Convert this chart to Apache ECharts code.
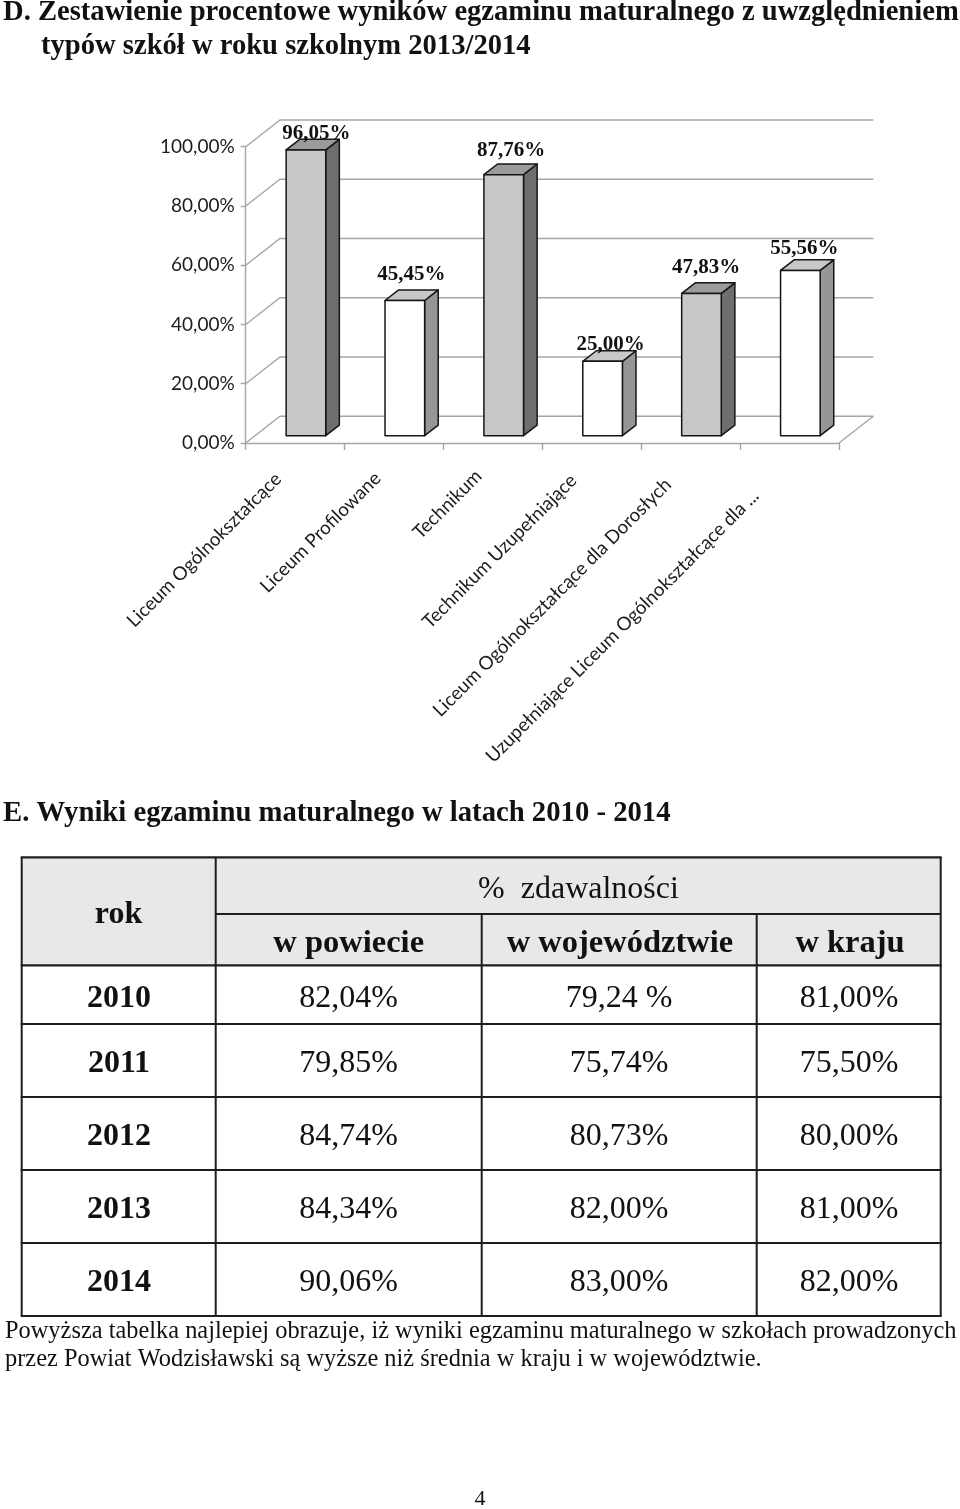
<!DOCTYPE html>
<html><head><meta charset="utf-8">
<style>html,body{margin:0;padding:0;background:#fff}#c{width:960px;height:1509px}</style>
<script src="https://cdn.jsdelivr.net/npm/echarts@6/dist/echarts.min.js"></script>
</head><body><div id="c"></div>
<script>
const categories = ['Liceum Ogólnokształcące','Liceum Profilowane','Technikum','Technikum Uzupełniające','Liceum Ogólnokształcące dla Dorosłych','Uzupełniające Liceum Ogólnokształcące dla ...'];
const passRates = [96.05,45.45,87.76,25.00,47.83,55.56];
const passLabels = ['96,05%','45,45%','87,76%','25,00%','47,83%','55,56%'];
const tableHeaderTop = '%  zdawalności';
const tableHeaderYear = 'rok';
const tableColumns = ['w powiecie','w województwie','w kraju'];
const tableYears = ['2010','2011','2012','2013','2014'];
const colPowiat = ['82,04%','79,85%','84,74%','84,34%','90,06%'];
const colWoj = ['79,24 %','75,74%','80,73%','82,00%','83,00%'];
const colKraj = ['81,00%','75,50%','80,00%','81,00%','82,00%'];
const titleD = ['D. Zestawienie procentowe wyników egzaminu maturalnego z uwzględnieniem','typów szkół w roku szkolnym 2013/2014'];
const titleE = 'E. Wyniki egzaminu maturalnego w latach 2010 - 2014';
const footer = ['Powyższa tabelka najlepiej obrazuje, iż wyniki egzaminu maturalnego w szkołach prowadzonych','przez Powiat Wodzisławski są wyższe niż średnia w kraju i w województwie.'];
const pageNumber = '4';

// style / layout constants
const SERIF = '"Liberation Serif","Times New Roman",serif';
const WALL = [34.3,-26.7], GRID = '#a6a6a6', INK = '#161616';
const labelLift = [16.5,25.5,24.5,17,26,22];
const labelShift = [10.5,6.5,7.5,8,4.7,4];
const catPad = [24,23,20,26,32,48];
const FILLS = [{f:'#c8c8c8',s:'#6e6e6e',t:'#9b9b9b'},{f:'#ffffff',s:'#969696',t:'#c8c8c8'}];
const tickVals = [0,20,40,60,80,100];

function wallItem(p, api){
  const i = api.value(0), y0 = api.coord([0,tickVals[i]]);
  const r = p.coordSys, L = r.x, R = r.x+r.width, Y = y0[1];
  const children = [{type:'polyline',shape:{points:[[L,Y],[L+WALL[0],Y+WALL[1]],[R+WALL[0],Y+WALL[1]]]},style:{stroke:GRID,lineWidth:1.4,fill:null}}];
  if(i===0) children.push({type:'polyline',shape:{points:[[R,Y],[R+WALL[0],Y+WALL[1]]]},style:{stroke:GRID,lineWidth:1.4,fill:null}});
  return {type:'group',children};
}
function barItem(p, api){
  const i = api.value(0), v = api.value(1);
  const w = 39.6, dx = 13.6, dy = -10.6;
  const c = api.coord([i,v]), b = api.coord([i,0]);
  const x0 = c[0]-9, x1 = x0+w, yb = b[1]-7.3, yt = yb-(b[1]-c[1])*1.004;
  const col = FILLS[i%2];
  const st = f=>({fill:f,stroke:INK,lineWidth:1.5,lineJoin:'round'});
  return {type:'group',children:[
    {type:'polygon',shape:{points:[[x1,yb],[x1+dx,yb+dy],[x1+dx,yt+dy],[x1,yt]]},style:st(col.s)},
    {type:'polygon',shape:{points:[[x0,yt],[x1,yt],[x1+dx,yt+dy],[x0+dx,yt+dy]]},style:st(col.t)},
    {type:'rect',shape:{x:x0,y:yt,width:w,height:yb-yt},style:st(col.f)},
    {type:'text',x:x0+w/2+labelShift[i],y:yt-labelLift[i],style:{text:passLabels[i],font:'bold 21px '+SERIF,fill:'#111',align:'center',verticalAlign:'middle'}}
  ]};
}

// table
const T = {x:[21.7,215.7,481.7,756.7,940.7], y:[857.3,914,965.3,1024,1097,1170,1243,1316]};
const g = [];
const txt=(s,x,y,font,align)=>g.push({type:'text',z:5,x,y,style:{text:s,font,fill:'#111',align:align||'center',verticalAlign:'middle'}});
const hline=(a,b,y)=>g.push({type:'line',z:4,shape:{x1:a,y1:y,x2:b,y2:y},style:{stroke:'#1e1e1e',lineWidth:2.2}});
const vline=(x,a,b)=>g.push({type:'line',z:4,shape:{x1:x,y1:a,x2:x,y2:b},style:{stroke:'#1e1e1e',lineWidth:2}});
g.push({type:'rect',z:1,shape:{x:T.x[0],y:T.y[0],width:T.x[4]-T.x[0],height:T.y[2]-T.y[0]},style:{fill:'#e8e8e8'}});
hline(T.x[0]-1,T.x[4]+1,T.y[0]); hline(T.x[1],T.x[4],T.y[1]);
for(let k=2;k<T.y.length;k++) hline(T.x[0]-1,T.x[4]+1,T.y[k]);
vline(T.x[0],T.y[0],T.y[7]); vline(T.x[1],T.y[0],T.y[7]); vline(T.x[4],T.y[0],T.y[7]);
vline(T.x[2],T.y[1],T.y[7]); vline(T.x[3],T.y[1],T.y[7]);
const cellB='bold 32px '+SERIF, cellR='32px '+SERIF;
txt(tableHeaderYear,118.5,914.5,cellB);
txt(tableHeaderTop,578.5,889.5,cellR);
const colC=[348.7,620,850];
tableColumns.forEach((s,i)=>txt(s,colC[i],943.5,'bold 32.5px '+SERIF));
const rowC=[998.5,1063.5,1136.5,1209.5,1282.5];
tableYears.forEach((yr,i)=>{
  txt(yr,119,rowC[i],cellB);
  txt(colPowiat[i],348.7,rowC[i],cellR);
  txt(colWoj[i],619,rowC[i],cellR);
  txt(colKraj[i],849,rowC[i],cellR);
});
txt(titleD[0],3,13,'bold 28.6px '+SERIF,'left');
txt(titleD[1],41,47,'bold 28.6px '+SERIF,'left');
txt(titleE,3,814,'bold 28.7px '+SERIF,'left');
txt(footer[0],5,1332,'24.4px '+SERIF,'left');
txt(footer[1],5,1360,'24.4px '+SERIF,'left');
txt(pageNumber,480,1499,'22px '+SERIF);

const chart = echarts.init(document.getElementById('c'),null,{renderer:'canvas'});
chart.setOption({
  animation:false,
  backgroundColor:'#fff',
  grid:{left:245.7,top:146.7,width:593.3,height:296.3,containLabel:false},
  xAxis:{type:'category',
    data:categories.map((c,i)=>({value:c,textStyle:{padding:[0,catPad[i],0,0]}})),
    axisTick:{show:true,alignWithLabel:false,length:7,lineStyle:{color:GRID,width:1.4}},
    axisLine:{show:true,lineStyle:{color:GRID,width:1.4}},
    axisLabel:{interval:0,rotate:45,margin:16,fontFamily:'Lato',fontSize:18.8,color:'#1c1c1c'}},
  yAxis:{type:'value',min:0,max:100,interval:20,
    axisLine:{show:true,lineStyle:{color:GRID,width:1.4}},
    axisTick:{show:true,length:5,lineStyle:{color:GRID,width:1.4}},
    splitLine:{show:false},
    axisLabel:{fontFamily:'Lato',fontSize:19,color:'#1c1c1c',margin:11,padding:[2,0,0,0],formatter:v=>v.toFixed(2).replace('.',',')+'%'}},
  graphic:g,
  series:[
    {type:'custom',coordinateSystem:'cartesian2d',silent:true,z:1,clip:false,encode:{x:0,y:1},data:tickVals.map((v,i)=>[i,v]),renderItem:wallItem},
    {type:'custom',coordinateSystem:'cartesian2d',silent:true,z:3,clip:false,encode:{x:0,y:1},data:passRates.map((v,i)=>[i,v]),renderItem:barItem}
  ]
});
</script></body></html>
